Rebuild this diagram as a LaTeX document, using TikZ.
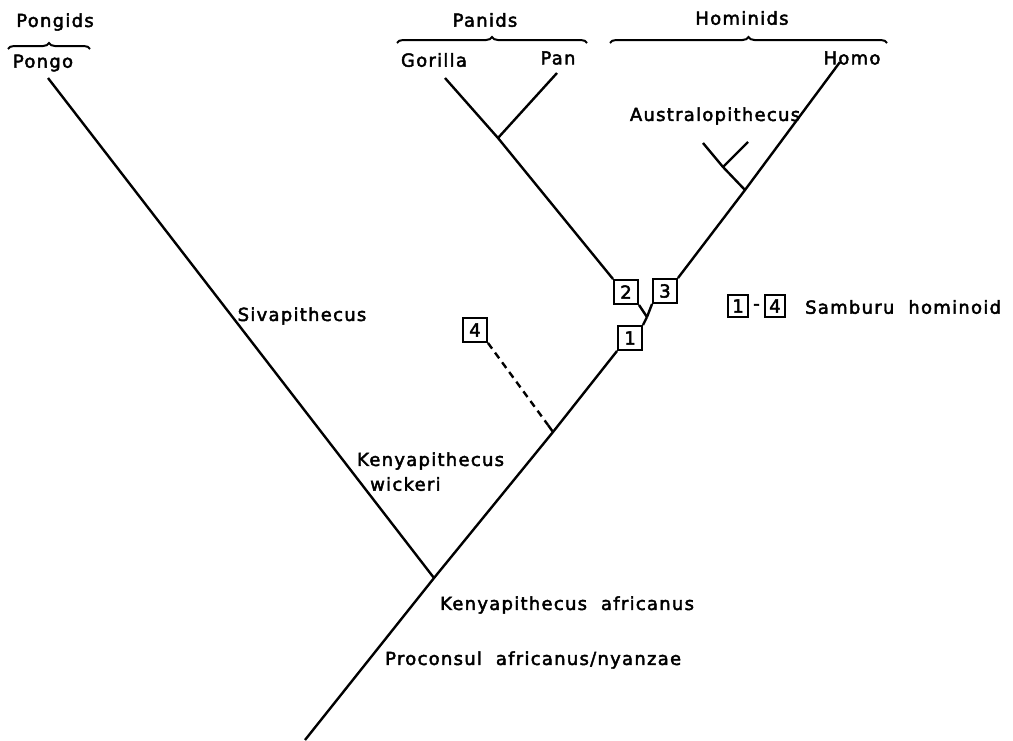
\documentclass[tikz,border=0pt]{standalone}
\usepackage{fontspec}
\setmainfont{DejaVu Sans}[LetterSpace=7,WordSpace={2},FakeBold=2.5]
\usetikzlibrary{decorations.pathreplacing}
\begin{document}
\begin{tikzpicture}[x=1pt,y=-1pt,
  lbl/.style={inner sep=0pt,font=\fontsize{18}{26}\selectfont},
  branch/.style={line width=2.4pt},
  numbox/.style={draw,line width=1.9pt,minimum width=24pt,minimum height=24pt,inner sep=0pt,font=\fontsize{18}{22}\selectfont},
  legbox/.style={draw,line width=1.9pt,minimum width=20pt,minimum height=22pt,inner sep=0pt,font=\fontsize{18}{22}\selectfont},
  grpbrace/.style={line width=2pt,decorate,decoration={brace,amplitude=6pt}}]
\useasboundingbox (0,0) rectangle (1013,740);
% group labels and braces
\node[lbl] (pongids) at (55,22) {Pongids};
\node[lbl] (panids) at (485,20) {Panids};
\node[lbl] (hominids) at (742,18) {Hominids};
\draw[grpbrace] (8,49) -- (90,49);
\draw[grpbrace] (397,43) -- (587,43);
\draw[grpbrace] (610,43) -- (887,43);
% taxa labels
\node[lbl] (pongo) at (43,63) {Pongo};
\node[lbl] (gorilla) at (434,60) {Gorilla};
\node[lbl] (pan) at (558,58) {Pan};
\node[lbl] (homo) at (852,58) {Homo};
\node[lbl] (austr) at (715,116) {Australopithecus};
\node[lbl] (siva) at (302,316) {Sivapithecus};
\node[lbl,anchor=west] (wick1) at (357,461) {Kenyapithecus};
\node[lbl,anchor=west] (wick2) at (370,484) {wickeri};
\node[lbl,anchor=west] (kafr) at (440,605) {Kenyapithecus africanus};
\node[lbl,anchor=west] (procon) at (385,660) {Proconsul africanus/nyanzae};
% boxes
\node[numbox] (b1) at (630,338) {1};
\node[numbox] (b2) at (626,292) {2};
\node[numbox] (b3) at (665,291) {3};
\node[numbox] (b4) at (475,330) {4};
% legend
\node[legbox] (l1) at (738,306) {1};
\node[legbox] (l4) at (775,306) {4};
\node[lbl] (ldash) at (756.5,307) {-};
\node[lbl,anchor=west] (samb) at (805,307) {Samburu hominoid};
% coordinates
\coordinate (base) at (305,740);
\coordinate (ka) at (434,578);
\coordinate (pongoend) at (48,78);
\coordinate (d4) at (553,432);
\coordinate (d4t) at (548,425);
\coordinate (split) at (647,317);
\coordinate (panj) at (498,138);
\coordinate (gorend) at (445,78);
\coordinate (panend) at (557,73);
\coordinate (austj) at (745,190);
\coordinate (homoend) at (840,62);
\coordinate (austend) at (703,143);
\coordinate (austsub) at (723,167);
\coordinate (austsubend) at (748,142);
% tree
\draw[branch] (base) -- (ka) -- (d4) -- (b1.south west);
\draw[branch] (ka) -- (pongoend);
\draw[branch] (b1.north east) -- (split);
\draw[branch] (split) -- (b2.south east);
\draw[branch] (split) -- (b3.south west);
\draw[branch] (b2.north west) -- (panj) -- (gorend);
\draw[branch] (panj) -- (panend);
\draw[branch] (b3.north east) -- (austj) -- (homoend);
\draw[branch] (austj) -- (austsub) -- (austend);
\draw[branch] (austsub) -- (austsubend);
\draw[branch,dashed,dash pattern=on 7pt off 5pt] (b4.south east) -- (d4t);
\draw[branch] (d4t) -- (d4);
\end{tikzpicture}
\end{document}
